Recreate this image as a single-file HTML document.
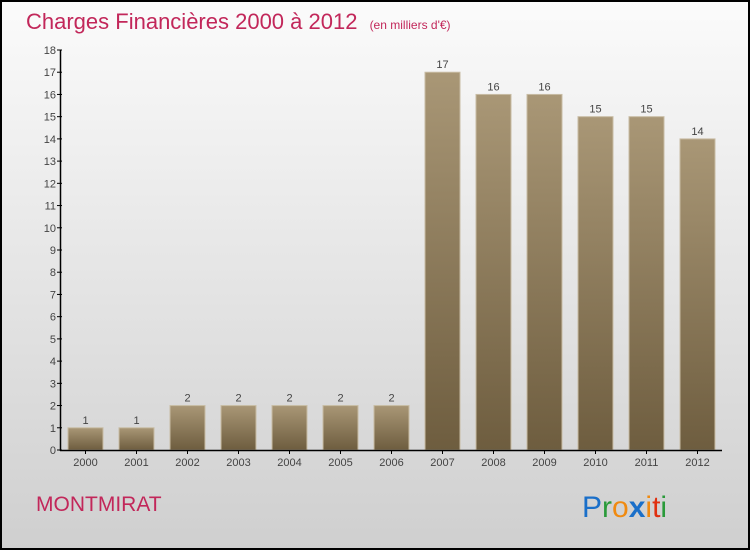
<!DOCTYPE html>
<html><head><meta charset="utf-8"><style>
body{margin:0;width:750px;height:550px;overflow:hidden;}
svg{display:block;font-family:"Liberation Sans",sans-serif;}
</style></head><body>
<svg id="c" width="750" height="550">
<defs>
<linearGradient id="bg" x1="0" y1="0" x2="0" y2="1"><stop offset="0" stop-color="#fbfbfb"/><stop offset="1" stop-color="#cfcfcf"/></linearGradient>
<linearGradient id="bar" x1="0" y1="0" x2="0" y2="1"><stop offset="0" stop-color="#a99776"/><stop offset="1" stop-color="#6e5d3f"/></linearGradient>
</defs>
<rect x="1" y="1" width="748" height="548" fill="url(#bg)" stroke="#000" stroke-width="2"/>
<text x="26" y="29" font-size="22" fill="#c2275a">Charges Financières 2000 à 2012 <tspan font-size="12" dx="6">(en milliers d'€)</tspan></text>
<text x="36" y="511" font-size="21" fill="#c2275a">MONTMIRAT</text>
<text x="582" y="517" font-size="30"><tspan fill="#1a6fc9">P</tspan><tspan fill="#2a9a3a">r</tspan><tspan fill="#f08a10">o</tspan><tspan fill="#1a6fc9" font-weight="bold">x</tspan><tspan fill="#f08a10">i</tspan><tspan fill="#e03010">t</tspan><tspan fill="#2a9a3a">i</tspan></text>
<g id="g"></g>
</svg>
<script>
const categories=["2000","2001","2002","2003","2004","2005","2006","2007","2008","2009","2010","2011","2012"];
const values=[1,1,2,2,2,2,2,17,16,16,15,15,14];
const yTicks=[0,1,2,3,4,5,6,7,8,9,10,11,12,13,14,15,16,17,18];
const NS="http://www.w3.org/2000/svg";
const g=document.getElementById('g');
const y0=450,y1=50,yMax=18;
const y=v=>y0-(v/yMax)*(y0-y1);
const x=i=>68+i*51;
const bw=35;
function mk(t,a){const e=document.createElementNS(NS,t);for(const k in a)e.setAttribute(k,a[k]);g.appendChild(e);return e;}
yTicks.forEach(t=>{
  const l=mk('line',{x1:57,x2:62,y1:y(t),y2:y(t),stroke:'#000'});
  
  
  const tx=mk('text',{x:56,y:y(t)+4,'font-size':11,'text-anchor':'end',fill:'#444'});
  tx.textContent=t;
  
  
});
values.forEach((v,i)=>{
  const r=mk('rect',{x:x(i),y:y(v),width:bw,height:y0-y(v),fill:'url(#bar)',stroke:'#c8bca4','stroke-width':1});
  
  
  const lb=mk('text',{x:x(i)+bw/2,y:y(v)-4,'font-size':11,'text-anchor':'middle',fill:'#444'});
  lb.textContent=v;
  
  
  const tk=mk('line',{x1:x(i)+bw/2,x2:x(i)+bw/2,y1:450,y2:454,stroke:'#000'});
  
  
  const cl=mk('text',{x:x(i)+bw/2,y:466,'font-size':11,'text-anchor':'middle',fill:'#444'});
  cl.textContent=categories[i];
  
  
});
const ya=mk('line',{x1:60.5,x2:60.5,y1:50,y2:451,stroke:'#000','stroke-width':1.5});


const xa=mk('line',{x1:60,x2:722,y1:450.5,y2:450.5,stroke:'#000','stroke-width':1.5});


</script>
</body></html>
